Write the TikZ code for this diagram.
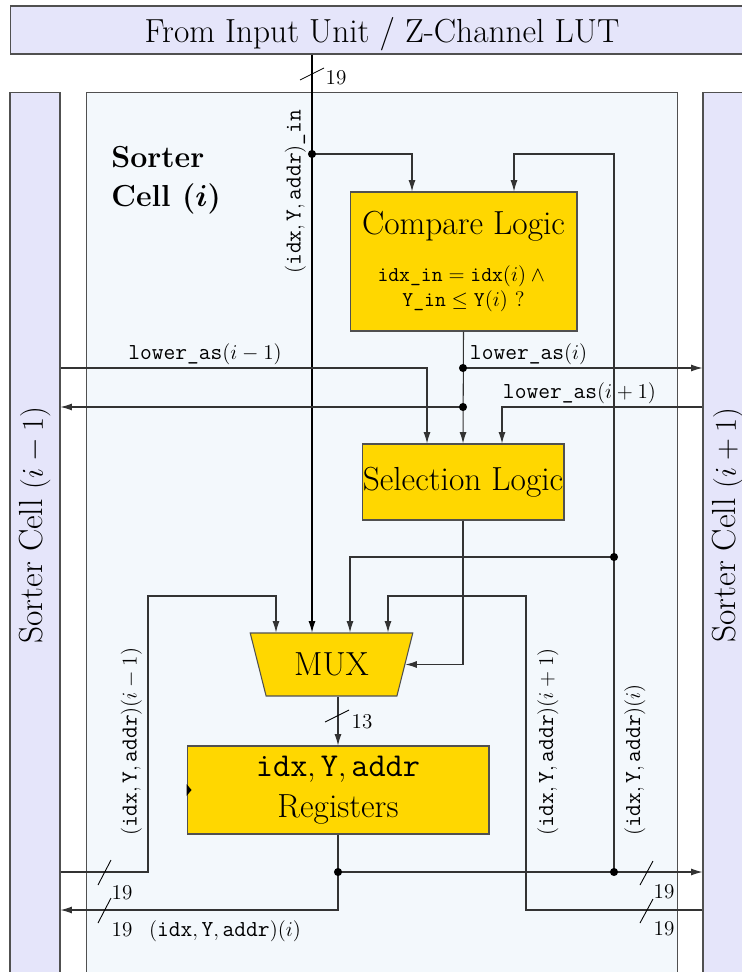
\documentclass[tikz,border=0pt]{standalone}
\usetikzlibrary{arrows.meta, positioning, shapes.geometric, calc}
\definecolor{cellTint}{HTML}{F3F8FC}
\definecolor{peerTint}{HTML}{E5E5FA}
\definecolor{logicGold}{HTML}{FFD700}
\definecolor{edgeGray}{HTML}{505050}
\newcommand{\blockfont}{\fontsize{19}{23}\selectfont}
\newcommand{\labelfont}{\fontsize{13}{15.5}\selectfont}

\tikzset{
  frame/.style={draw=edgeGray, line width=0.6pt},
  logic/.style={frame, fill=logicGold, align=center, inner sep=0pt},
  wire/.style={black!80, line width=0.6pt},
  sig/.style={wire, -{Latex[length=6.5pt, width=4pt]}},
  slash/.style={black, line width=0.5pt},
  buswidth/.style={font=\large, inner sep=0pt},
  sig label/.style={font=\labelfont, inner sep=1.5pt},
  side label/.style={font=\labelfont, rotate=90},
}

\begin{document}
\begin{tikzpicture}[x=0.02cm, y=-0.02cm]
  \useasboundingbox (0,0) rectangle (742,972);
  \clip (0,0) rectangle (742,972);

  % quelle oben
  \node[frame, fill=peerTint, minimum width=14.88cm, minimum height=0.96cm, text depth=0pt, font=\blockfont] (src) at (382,30)
    {From Input Unit / Z-Channel LUT};
  % nachbarzellen
  \node[frame, fill=peerTint, minimum width=1cm, minimum height=18.4cm, anchor=north] (left) at (35,92) {};
  \node[frame, fill=peerTint, minimum width=1cm, minimum height=18.4cm, anchor=north] (right) at (728,92) {};
  \node[rotate=90, font=\blockfont] (leftname) at (35,525) {Sorter Cell $(i-1)$};
  \node[rotate=90, font=\blockfont] (rightname) at (728,525) {Sorter Cell $(i+1)$};
  % eigene zelle
  \node[frame, fill=cellTint, minimum width=11.84cm, minimum height=18.4cm, anchor=north] (cell) at (382,92) {};
  \node[font=\LARGE\bfseries\boldmath, align=left, anchor=north west, inner sep=0pt] (cellname) at (111,146)
    {Sorter\\Cell $(i)$};

  % bloecke
  \node[logic, minimum width=4.54cm, minimum height=2.78cm, font=\large] (cmp) at (463.5,261.5)
    {{\blockfont Compare Logic}\\[13pt]
     $\texttt{idx\_in} = \texttt{idx}(i) \land{}$\\
     $\texttt{Y\_in} \leq \texttt{Y}(i)$ ?};
  \node[logic, minimum width=4.04cm, minimum height=1.52cm, font=\blockfont] (sel) at (463,482) {Selection Logic};
  \node[logic, trapezium, trapezium angle=68.75, trapezium stretches=true, shape border rotate=180,
        minimum width=3.26cm, minimum height=1.26cm, font=\blockfont] (mux) at (331.5,664.5) {MUX};
  \node[logic, minimum width=6.04cm, minimum height=1.76cm, font=\blockfont] (reg) at (338,790)
    {$\texttt{idx}, \texttt{Y}, \texttt{addr}$\\Registers};
  % takt
  \fill ($(reg.west)+(0,-6)$) -- ($(reg.west)+(5,0)$) -- ($(reg.west)+(0,6)$) -- cycle;

  % knoten und ecken
  \coordinate (din) at (312,154);
  \coordinate (ka) at (412,154);
  \coordinate (kb) at (514,154);
  \coordinate (dla) at (463,368);
  \coordinate (dlb) at (463,407);
  \coordinate (kc) at (427,368);
  \coordinate (kd) at (502,407);
  \coordinate (dq) at (614,557);
  \coordinate (ke) at (350,557);
  \coordinate (kf) at (148,596);
  \coordinate (kg) at (276,596);
  \coordinate (kh) at (526,596);
  \coordinate (ki) at (388,596);
  \coordinate (dr) at (338,872);
  \coordinate (drq) at (614,872);
  \coordinate (dv) at (338,910);

  % eingang
  \draw[sig, black] (din |- src.south) -- (din |- mux.north);
  \draw[sig] (din) -- (ka) -- (ka |- cmp.north);
  % eigener wert zurueck
  \draw[sig] (drq) |- (kb) -- (kb |- cmp.north);
  \draw[sig] (dq) -- (ke) -- (ke |- mux.north);
  % lower_as
  \draw[sig] (cmp.south) -- (sel.north);
  \draw[sig] (dla) -- (dla -| right.west);
  \draw[sig] (dlb) -- (dlb -| left.east);
  \draw[sig] (kc -| left.east) -- (kc) -- (kc |- sel.north);
  \draw[sig] (kd -| right.west) -- (kd) -- (kd |- sel.north);
  % auswahl
  \draw[sig] (sel.south) |- (mux.east);
  % werte der nachbarn
  \draw[sig] (left.east |- dr) -| (kf) -- (kg) -- (kg |- mux.north);
  \draw[sig] (right.west |- dv) -| (kh) -- (ki) -- (ki |- mux.north);
  % mux -> register
  \draw[sig] (reg.north |- mux.south) -- (reg.north);
  % register ausgang
  \draw[sig] (reg.south) -- (dv) -- (dv -| left.east);
  \draw[sig] (dr) -- (dr -| right.west);
  \foreach \p in {din, dla, dlb, dq, dr, drq}
    \fill (\p) circle (2.3pt);

  % busbreiten
  \draw[slash] (300,80) -- (324,68);
  \node[buswidth] (w1) at (336,78) {19};
  \draw[slash] (325,722) -- (349,710);
  \node[buswidth] (w2) at (362,722) {13};
  \draw[slash] (98,885) -- (111,860);
  \node[buswidth] (w3) at (122,893) {19};
  \draw[slash] (98,923) -- (111,898);
  \node[buswidth] (w4) at (122,930) {19};
  \draw[slash] (640,885) -- (653,861);
  \node[buswidth] (w5) at (664,892) {19};
  \draw[slash] (640,923) -- (653,899);
  \node[buswidth] (w6) at (664,929) {19};

  % signalnamen
  \node[sig label, anchor=south] (lasm) at (205,368) {$\texttt{lower\_as}(i-1)$};
  \node[sig label, anchor=south west] (las) at (467,368) {$\texttt{lower\_as}(i)$};
  \node[sig label, anchor=south west] (lasp) at (500,407) {$\texttt{lower\_as}(i+1)$};
  \node[side label, anchor=south west] (inlbl) at (312,280) {$(\texttt{idx}, \texttt{Y}, \texttt{addr})$\texttt{\_in}};
  \node[side label, anchor=south west] (prevlbl) at (148,842) {$(\texttt{idx}, \texttt{Y}, \texttt{addr})(i-1)$};
  \node[side label, anchor=north west] (nextlbl) at (531,842) {$(\texttt{idx}, \texttt{Y}, \texttt{addr})(i+1)$};
  \node[side label, anchor=north west] (ownlbl) at (618,842) {$(\texttt{idx}, \texttt{Y}, \texttt{addr})(i)$};
  \node[sig label] (outlbl) at (225,931) {$(\texttt{idx}, \texttt{Y}, \texttt{addr})(i)$};
\end{tikzpicture}
\end{document}
